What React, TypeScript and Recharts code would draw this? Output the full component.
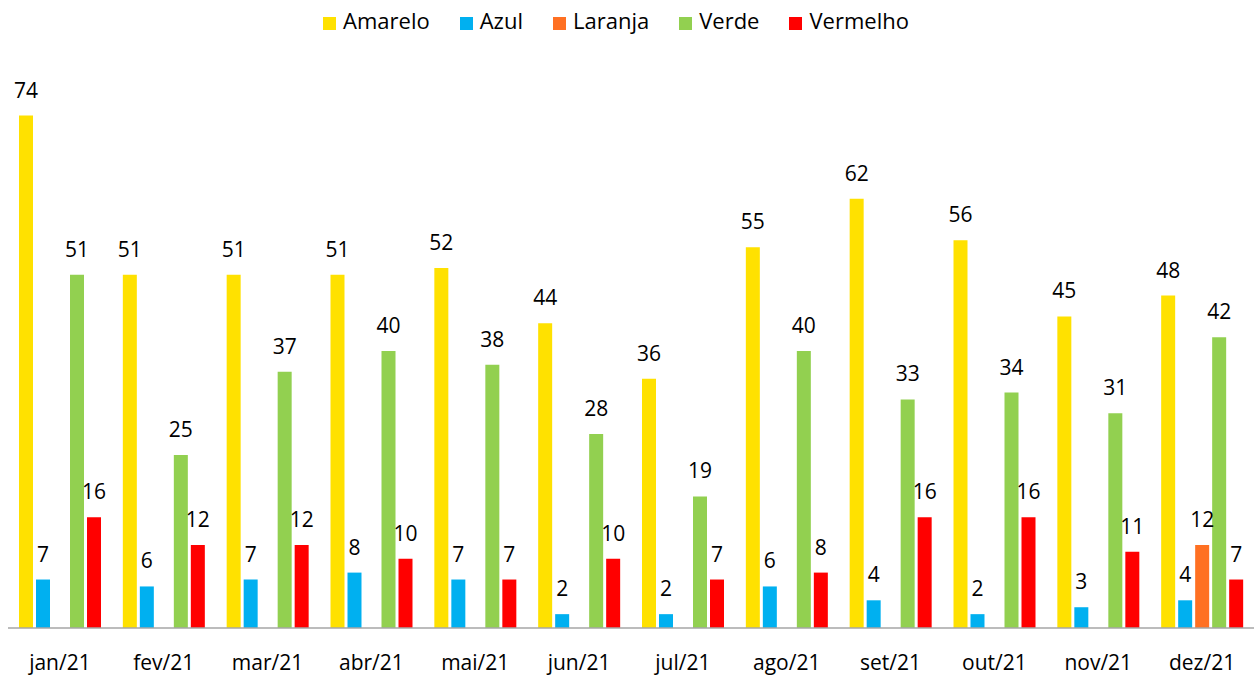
import React from "react";
import { BarChart, Bar, XAxis, YAxis, Legend, LabelList } from "recharts";

const MONTHS = ["jan/21", "fev/21", "mar/21", "abr/21", "mai/21", "jun/21", "jul/21", "ago/21", "set/21", "out/21", "nov/21", "dez/21"];
const AMARELO = [74, 51, 51, 51, 52, 44, 36, 55, 62, 56, 45, 48];
const AZUL = [7, 6, 7, 8, 7, 2, 2, 6, 4, 2, 3, 4];
const LARANJA: (number | null)[] = [null, null, null, null, null, null, null, null, null, null, null, 12];
const VERDE = [51, 25, 37, 40, 38, 28, 19, 40, 33, 34, 31, 42];
const VERMELHO = [16, 12, 12, 10, 7, 10, 7, 8, 16, 16, 11, 7];

const SERIES = [
  { key: "Amarelo", color: "#FFE100" },
  { key: "Azul", color: "#00B0F0" },
  { key: "Laranja", color: "#FF7022" },
  { key: "Verde", color: "#92D050" },
  { key: "Vermelho", color: "#FF0000" },
];

const data = MONTHS.map((m, i) => ({
  month: m,
  Amarelo: AMARELO[i],
  Azul: AZUL[i],
  Laranja: LARANJA[i],
  Verde: VERDE[i],
  Vermelho: VERMELHO[i],
}));

const FONT = "'Open Sans', 'Noto Sans', sans-serif";

export default function App() {
  return (
    <div style={{ position: "fixed", left: 0, top: 0, width: 1254, height: 677, background: "#fff", fontFamily: FONT }}>
      <BarChart
        width={1254}
        height={677}
        data={data}
        margin={{ top: 44, right: 0, bottom: 0, left: 8 }}
        barCategoryGap={10}
        barGap={3}
      >
        <XAxis
          dataKey="month"
          height={49}
          tickLine={false}
          axisLine={{ stroke: "#A6A6A6", strokeWidth: 1.5 }}
          tick={{ fill: "#000", fontSize: 21, fontFamily: FONT }}
          dy={19}
        />
        <YAxis hide domain={[0, 80]} />
        <Legend
          verticalAlign="top"
          align="center"
          iconType="square"
          iconSize={13}
          wrapperStyle={{ top: 5, fontSize: 22, fontFamily: FONT }}
          formatter={(value) => <span style={{ color: "#000", marginLeft: 3, marginRight: 20 }}>{value}</span>}
        />
        {SERIES.map((s) => (
          <Bar key={s.key} dataKey={s.key} fill={s.color} barSize={14} isAnimationActive={false}>
            <LabelList
              dataKey={s.key}
              position="top"
              offset={18}
              fill="#000"
              fontSize={21}
              fontFamily={FONT}
              formatter={(v: any) => (v == null ? "" : v)}
            />
          </Bar>
        ))}
      </BarChart>
    </div>
  );
}
